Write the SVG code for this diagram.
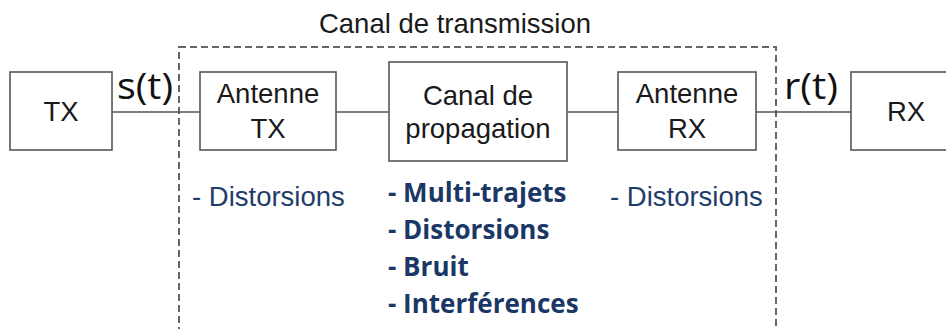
<svg xmlns="http://www.w3.org/2000/svg" width="946" height="329" viewBox="0 0 946 329">
<style>
.box{fill:#fff;stroke:#555;stroke-width:1.6}
.lbl{font-family:"Liberation Sans",Arial,sans-serif;font-size:27.5px;fill:#1a1a1a;text-anchor:middle}
.sig{font-family:"Open Sans","Liberation Sans",sans-serif;font-size:37px;fill:#111}
.dist{font-family:"Liberation Sans",Arial,sans-serif;font-size:27.5px;fill:#1f3d6b}
.imp{font-family:"Open Sans","Liberation Sans",sans-serif;font-size:26px;font-weight:bold;fill:#1a3766}
.wire{stroke:#555;stroke-width:1.6;fill:none}
</style>
<rect width="946" height="329" fill="#fff"/>
<g id="canal-transmission">
<rect x="179" y="47" width="597" height="300" fill="none" stroke="#666" stroke-width="2" stroke-dasharray="7,4"/>
<text class="lbl" x="455" y="33">Canal de transmission</text>
</g>
<g id="connectors">
<line class="wire" x1="112" y1="112" x2="200" y2="112"/>
<line class="wire" x1="336" y1="112" x2="389" y2="112"/>
<line class="wire" x1="567" y1="112" x2="618" y2="112"/>
<line class="wire" x1="756" y1="112" x2="851" y2="112"/>
<text class="sig" x="117" y="99" textLength="56" lengthAdjust="spacingAndGlyphs">s(t)</text>
<text class="sig" x="784" y="99" textLength="54" lengthAdjust="spacingAndGlyphs">r(t)</text>
</g>
<g id="tx">
<rect class="box" x="10" y="72" width="102" height="78"/>
<text class="lbl" x="61" y="121">TX</text>
</g>
<g id="antenne-tx">
<rect class="box" x="200" y="72" width="136" height="78"/>
<text class="lbl" x="268" y="103">Antenne</text>
<text class="lbl" x="268" y="138">TX</text>
</g>
<g id="canal-propagation">
<rect class="box" x="389" y="62" width="178" height="99"/>
<text class="lbl" x="478" y="105">Canal de</text>
<text class="lbl" x="478" y="138">propagation</text>
</g>
<g id="antenne-rx">
<rect class="box" x="618" y="72" width="138" height="78"/>
<text class="lbl" x="687" y="103">Antenne</text>
<text class="lbl" x="687" y="138">RX</text>
</g>
<g id="rx">
<rect class="box" x="851" y="72" width="110" height="78"/>
<text class="lbl" x="906" y="121">RX</text>
</g>
<g id="effets">
<text class="dist" x="192" y="206">- Distorsions</text>
<text class="dist" x="610" y="206">- Distorsions</text>
<text class="imp" x="388" y="202">- Multi-trajets</text>
<text class="imp" x="388" y="239">- Distorsions</text>
<text class="imp" x="388" y="276">- Bruit</text>
<text class="imp" x="388" y="313">- Interférences</text>
</g>
</svg>
